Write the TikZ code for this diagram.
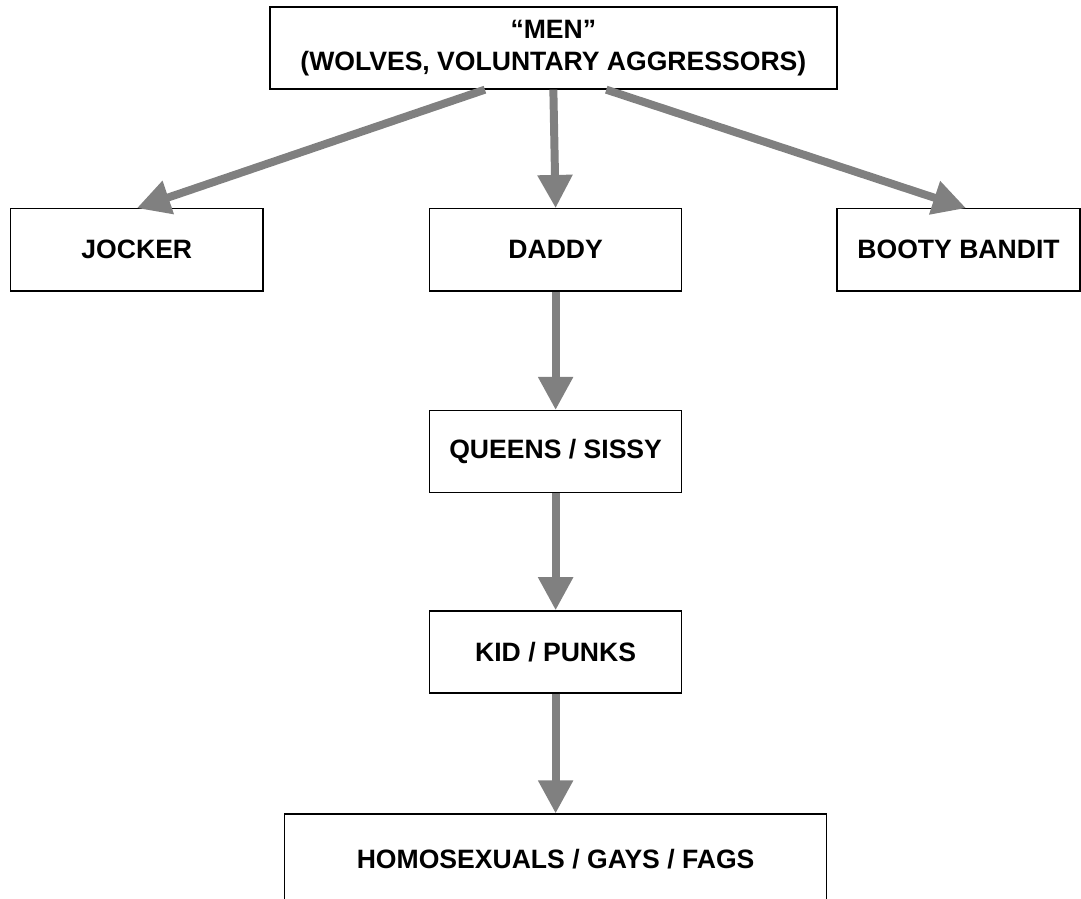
\documentclass[tikz,border=0pt]{standalone}
\usepackage{fontspec}
\setmainfont{Liberation Sans}
\usepackage{tikz}
\usetikzlibrary{arrows.meta}

\begin{document}
\begin{tikzpicture}[box/.style={draw=black,line width=1pt,minimum height=2.17cm,align=center,font=\fontsize{20}{24}\selectfont\bfseries},
arr/.style={draw=gray,line width=6pt,-{Triangle[length=25pt,width=25pt]}}]
\useasboundingbox (0,0) rectangle (28.60,-23.76);
\node[box,minimum width=15cm] (men) at (14.64,-1.27) {“MEN”\\(WOLVES, VOLUNTARY AGGRESSORS)};
\node[box,minimum width=6.67cm] (jocker) at (3.62,-6.61) {JOCKER};
\node[box,minimum width=6.67cm] (daddy) at (14.70,-6.61) {DADDY};
\node[box,minimum width=6.43cm] (booty) at (25.36,-6.61) {BOOTY BANDIT};
\node[box,minimum width=6.67cm] (queens) at (14.70,-11.95) {QUEENS / SISSY};
\node[box,minimum width=6.67cm] (kid) at (14.70,-17.25) {KID / PUNKS};
\node[box,minimum width=14.34cm,minimum height=2.38cm] (homo) at (14.70,-22.73) {HOMOSEXUALS / GAYS / FAGS};
\draw[arr] ([xshift=-1.81cm]men.south) -- (jocker.north);
\draw[arr] (men.south) -- (daddy.north);
\draw[arr] ([xshift=1.4cm]men.south) -- ([xshift=0.2cm]booty.north);
\draw[arr] (daddy) -- (queens);
\draw[arr] (queens) -- (kid);
\draw[arr] (kid) -- (homo);
\end{tikzpicture}
\end{document}
